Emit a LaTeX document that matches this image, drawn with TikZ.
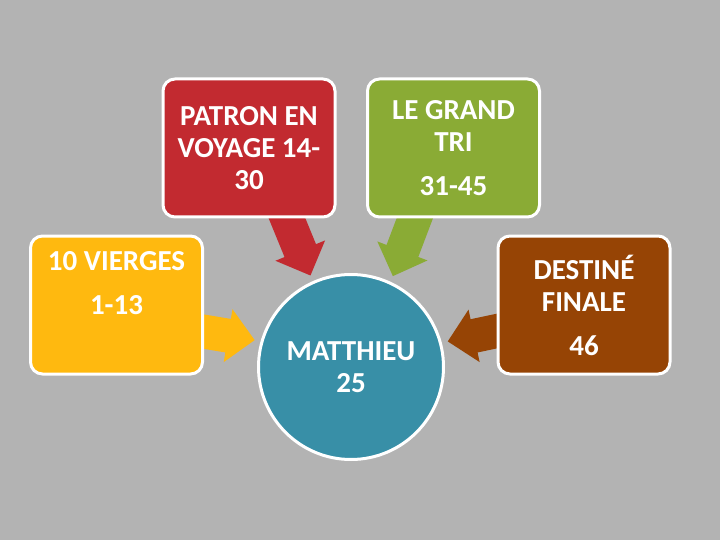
\documentclass[tikz,border=0pt]{standalone}
\usepackage{fontspec}
\setmainfont{Carlito}
\usetikzlibrary{arrows.meta, backgrounds}

\definecolor{bggray}{HTML}{B3B3B3}
\definecolor{tilered}{HTML}{C22A30}
\definecolor{tilegreen}{HTML}{8AAB35}
\definecolor{tileyellow}{HTML}{FFB90F}
\definecolor{tilebrown}{HTML}{964405}
\definecolor{tileblue}{HTML}{388FA7}

\begin{document}
\begin{tikzpicture}[
    x=1pt, y=-1pt,
    tile/.style = {
        rectangle,
        rounded corners=12pt,
        draw=white,
        line width=3pt,
        text=white,
        align=center,
        font=\bfseries\fontsize{29}{32}\selectfont,
        minimum width=172pt,
        minimum height=138pt
    },
    hub/.style = {
        circle,
        draw=white,
        line width=3pt,
        text=white,
        align=center,
        font=\bfseries\fontsize{29}{32}\selectfont,
        minimum size=185pt
    },
    flow/.style = {
        line width=34pt,
        -{Triangle[length=27pt, width=52pt]},
        shorten >=6pt
    }
]
\useasboundingbox (0,0) rectangle (720,540);

% Boxes at explicit coordinates
\node[tile, fill=tilered]    (patron) at (249,148)   {PATRON EN\\VOYAGE 14-\\30};
\node[tile, fill=tilegreen]  (tri)    at (453.5,148) {LE GRAND\\TRI\\[12pt]31-45};
\node[tile, fill=tileyellow] (vierges) at (116.5,305) {10 VIERGES\\[12pt]1-13\\[12pt]\mbox{}};
\node[tile, fill=tilebrown]  (destin) at (584,305)   {DESTINÉ\\FINALE\\[12pt]46};

\node[hub, fill=tileblue]    (matt)   at (351,367)   {MATTHIEU\\25};

\begin{scope}[on background layer]
\fill[bggray] (0,0) rectangle (720,540);

% Arrows into the circle
\draw[flow, tilered]    ([shift={(34pt,10pt)}]patron.south) -- (matt.114);
\draw[flow, tilegreen]  ([shift={(-35pt,10pt)}]tri.south)   -- (matt.65);
\draw[flow, tileyellow] ([shift={(-10pt,-25pt)}]vierges.east) -- (matt.164);
\draw[flow, tilebrown]  ([shift={(10pt,-24pt)}]destin.west)  -- (matt.15);
\end{scope}

\end{tikzpicture}
\end{document}
